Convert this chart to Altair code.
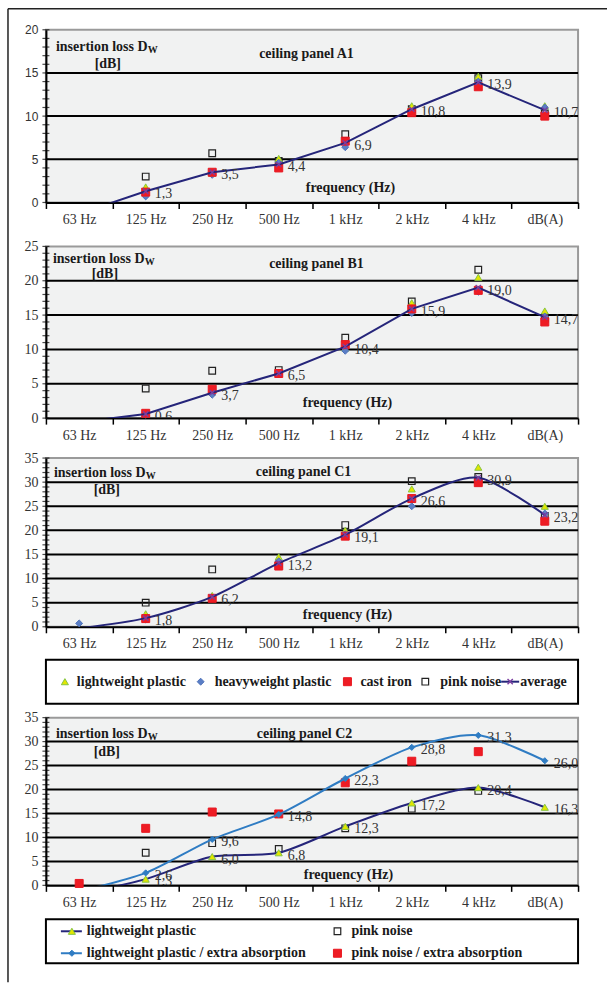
import altair as alt
import pandas as pd

# ---------------- data ----------------
CATS = ["63 Hz", "125 Hz", "250 Hz", "500 Hz", "1 kHz", "2 kHz", "4 kHz", "dB(A)"]

A1_LIGHT = [None, 1.8, 3.4, 5.1, 7.1, 11.2, 14.6, 11.2]
A1_HEAVY = [None, 0.7, 3.2, 4.6, 6.4, 10.5, 14.0, 11.0]
A1_CAST = [None, 1.2, 3.5, 4.0, 7.1, 10.4, 13.4, 10.0]
A1_PINK = [None, 3.0, 5.7, 4.8, 7.9, 10.8, 14.4, 10.3]
A1_AVG = [-1.3, 1.3, 3.5, 4.4, 6.9, 10.8, 13.9, 10.7]

B1_LIGHT = [None, 0.8, 3.8, 6.7, 10.2, 16.8, 20.5, 15.6]
B1_HEAVY = [None, 0.5, 3.4, 6.5, 9.8, 15.3, 18.4, 14.8]
B1_CAST = [None, 0.7, 4.2, 6.5, 10.7, 15.9, 18.6, 14.0]
B1_PINK = [None, 4.3, 6.9, 7.0, 11.7, 17.0, 21.6, 14.5]
B1_AVG = [-0.6, 0.6, 3.7, 6.5, 10.4, 15.9, 19.0, 14.7]

C1_LIGHT = [None, 2.7, 6.5, 14.5, 20.0, 28.6, 33.1, 25.0]
C1_HEAVY = [0.7, 1.5, 5.9, 13.6, 19.2, 25.0, 30.6, 23.5]
C1_CAST = [None, 1.7, 5.9, 12.6, 18.8, 26.6, 29.9, 21.9]
C1_PINK = [None, 5.0, 11.9, 12.9, 21.1, 30.2, 31.1, 23.0]
C1_AVG = [-0.3, 1.8, 6.2, 13.2, 19.1, 26.6, 30.9, 23.2]

C2_LIGHT = [-1.8, 1.3, 6.0, 6.8, 12.3, 17.2, 20.4, 16.3]
C2_LIGHT_EXTRA = [-1.2, 2.6, 9.6, 14.8, 22.3, 28.8, 31.3, 26.0]
C2_PINK = [None, 6.8, 8.8, 7.6, 11.9, 16.0, 19.7, None]
C2_PINK_EXTRA = [0.4, 11.9, 15.3, 14.9, 21.4, 25.9, 27.9, None]

PANEL_NAMES = ["ceiling panel A1", "ceiling panel B1", "ceiling panel C1", "ceiling panel C2"]
YMAX = [20, 25, 35, 35]
LEGEND1 = ["lightweight plastic", "heavyweight plastic", "cast iron", "pink noise", "average"]
LEGEND2 = ["lightweight plastic", "pink noise",
           "lightweight plastic / extra absorption", "pink noise / extra absorption"]

# ---------------- styles ----------------
SERIF = "Liberation Serif"
SANS = "Liberation Sans"
W = 533
ONE = pd.DataFrame({"k": [0]})
NAVY = "#25257a"
BLUE = "#2f7cc3"
PURPLE = "#7b3fa0"
TXT = "#1a1a1a"
LBL = "#333333"
XPATH = "M-1,-1L1,1M-1,1L1,-1"
FS = 14

STY = {
    "light": dict(shape="triangle-up", filled=True, fill="#e3e600", stroke="#86c440", strokeWidth=1, size=50),
    "heavy": dict(shape="diamond", filled=True, fill="#5a7ec6", stroke="#4d70b8", strokeWidth=1, size=48),
    "cast": dict(shape="square", filled=True, fill="#ee1c24", stroke="#e81820", strokeWidth=1, size=64),
    "pink": dict(shape="square", filled=False, stroke="#222222", strokeWidth=1.2, size=44),
    "lwx": dict(shape="diamond", filled=True, fill=BLUE, stroke=BLUE, strokeWidth=1, size=38),
    "avg": dict(shape=XPATH, filled=False, stroke=PURPLE, strokeWidth=1.4, size=28),
}

XAXIS = alt.Axis(title=None, labelAngle=0, domainColor="black", domainWidth=2,
                 tickColor="black", tickWidth=1.5, tickSize=6, tickBand="extent",
                 labelFont=SERIF, labelFontSize=14, labelColor=LBL, labelPadding=4, grid=False)


def xenc():
    return alt.X("cat:N", sort=CATS, axis=XAXIS,
                 scale=alt.Scale(domain=CATS, paddingInner=0, paddingOuter=0))


def make_y(ymax, font, fsize):
    ax = alt.Axis(title=None, values=list(range(0, ymax + 1, 5)), grid=False, ticks=False,
                  tickSize=0, domainColor="black", domainWidth=2, labelFont=font,
                  labelFontSize=fsize, labelColor=LBL, labelPadding=8)
    sc = alt.Scale(domain=[0, ymax], nice=False, zero=True)
    return lambda field: alt.Y(f"{field}:Q", scale=sc, axis=ax)


def frame(vals):
    return pd.DataFrame({"cat": CATS, "v": vals}).dropna()


def points(vals, key, yf):
    df = frame(vals)
    df = df[df["v"] >= 0]
    return alt.Chart(df).mark_point(opacity=1, **STY[key]).encode(x=xenc(), y=yf("v"))


def line(vals, color, interp, yf):
    kw = dict(color=color, strokeWidth=2, clip=True, interpolate=interp)
    if interp == "cardinal":
        kw["tension"] = 0.2
    return alt.Chart(frame(vals)).mark_line(**kw).encode(x=xenc(), y=yf("v"))


def labels(vals, yf):
    df = frame(vals)
    df = df[df["v"] > 0].copy()
    df["lbl"] = [f"{v:.1f}".replace(".", ",") for v in df["v"]]
    return alt.Chart(df).mark_text(align="left", baseline="middle", dx=9, dy=3, font=SERIF,
                                   fontSize=14, color=LBL, clip=True).encode(
        x=xenc(), y=yf("v"), text="lbl:N")


def note(text, x, y, size=FS, align="left", weight="bold", color=TXT):
    return alt.Chart(ONE).mark_text(text=text, align=align, baseline="middle", font=SERIF,
                                    fontSize=size, fontWeight=weight, color=color).encode(
        x=alt.value(x), y=alt.value(y))


def base_layers(ymax, yf):
    grid = alt.Chart(pd.DataFrame({"g": list(range(5, ymax, 5))})).mark_rule(
        color="black", strokeWidth=2).encode(y=yf("g"))
    ticks = alt.Chart(pd.DataFrame({"t": list(range(0, ymax + 1))})).mark_tick(
        orient="horizontal", color="black", thickness=1.2, size=7).encode(
        x=alt.value(0), y=yf("t"))
    return [grid, ticks]


def notes(name, lay):
    ix, iy = lay["ins"]
    return [
        note("insertion loss D", ix, iy),
        note("W", ix + 92, iy + 3, size=10),
        note("[dB]", lay["db"][0], lay["db"][1], align="center"),
        note(name, lay["title"][0], lay["title"][1], align="center"),
        note("frequency (Hz)", lay["freq"][0], lay["freq"][1], align="center"),
    ]


VIEW = alt.ViewBackground(fill="#f1f2f2", stroke="#9a9a9a", strokeWidth=2)

LAYOUT = [
    dict(h=173, ins=(10, 17), db=(62, 34), title=(261, 24), freq=(305, 159), interp="linear", yfont=SANS, ysize=12),
    dict(h=172, ins=(7, 13), db=(59, 28), title=(271, 18), freq=(302, 157), interp="linear", yfont=SERIF, ysize=14),
    dict(h=169, ins=(8, 15), db=(61, 32), title=(258, 14), freq=(302, 157), interp="cardinal", yfont=SERIF, ysize=14),
    dict(h=168, ins=(10, 16), db=(61, 34), title=(259, 16), freq=(303, 158), interp="cardinal", yfont=SERIF, ysize=14),
]


def panel4(i, light, heavy, cast, pink, avg, extra=None):
    lay = LAYOUT[i]
    ymax = YMAX[i]
    yf = make_y(ymax, lay["yfont"], lay["ysize"])
    layers = base_layers(ymax, yf)
    layers += [points(pink, "pink", yf), points(light, "light", yf), points(heavy, "heavy", yf),
               points(cast, "cast", yf), line(avg, NAVY, lay["interp"], yf),
               points(avg, "avg", yf), labels(avg, yf)]
    layers += notes(PANEL_NAMES[i], lay)
    if extra:
        layers += extra
    return alt.layer(*layers).properties(width=W, height=lay["h"], view=VIEW)


def panel_c2():
    lay = LAYOUT[3]
    ymax = YMAX[3]
    yf = make_y(ymax, lay["yfont"], lay["ysize"])
    layers = base_layers(ymax, yf)
    layers += [points(C2_PINK, "pink", yf), points(C2_PINK_EXTRA, "cast", yf),
               line(C2_LIGHT, NAVY, lay["interp"], yf), points(C2_LIGHT, "light", yf),
               line(C2_LIGHT_EXTRA, BLUE, lay["interp"], yf), points(C2_LIGHT_EXTRA, "lwx", yf),
               labels(C2_LIGHT, yf), labels(C2_LIGHT_EXTRA, yf)]
    layers += notes(PANEL_NAMES[3], lay)
    return alt.layer(*layers).properties(width=W, height=lay["h"], view=VIEW)


# outer frame of the figure (decoration), drawn relative to panel A1
outer = [
    alt.Chart(ONE).mark_rule(color="#222222", strokeWidth=1.5).encode(
        x=alt.value(-38), y=alt.value(-21), y2=alt.value(954)),
    alt.Chart(ONE).mark_rule(color="#222222", strokeWidth=1.5).encode(
        x=alt.value(-38), x2=alt.value(562), y=alt.value(-21)),
]

pA1 = panel4(0, A1_LIGHT, A1_HEAVY, A1_CAST, A1_PINK, A1_AVG, extra=outer)
pB1 = panel4(1, B1_LIGHT, B1_HEAVY, B1_CAST, B1_PINK, B1_AVG)
pC1 = panel4(2, C1_LIGHT, C1_HEAVY, C1_CAST, C1_PINK, C1_AVG)
pC2 = panel_c2()


def sym(key, x, y):
    return alt.Chart(ONE).mark_point(opacity=1, **STY[key]).encode(x=alt.value(x), y=alt.value(y))


def seg(color, x1, x2, y):
    return alt.Chart(ONE).mark_rule(color=color, strokeWidth=2).encode(
        x=alt.value(x1), x2=alt.value(x2), y=alt.value(y))


LEGVIEW = alt.ViewBackground(fill="white", stroke="black", strokeWidth=2)

leg1 = alt.layer(
    sym("light", 19, 22), note(LEGEND1[0], 31, 22),
    sym("heavy", 155, 22), note(LEGEND1[1], 169, 22),
    sym("cast", 302, 22), note(LEGEND1[2], 315, 22),
    sym("pink", 380, 22), note(LEGEND1[3], 395, 22),
    seg(NAVY, 456, 474, 22), sym("avg", 465, 22), note(LEGEND1[4], 475, 22),
).properties(width=W, height=44, view=LEGVIEW)

leg2 = alt.layer(
    seg(NAVY, 15, 36, 12), sym("light", 26, 12), note(LEGEND2[0], 41, 12),
    sym("pink", 292, 12), note(LEGEND2[1], 306, 12),
    seg(BLUE, 15, 36, 34), sym("lwx", 26, 34), note(LEGEND2[2], 41, 34),
    sym("cast", 292, 34), note(LEGEND2[3], 306, 34),
).properties(width=W, height=44, view=LEGVIEW)


def spacer(h):
    return alt.Chart(ONE).mark_point(opacity=0).encode(
        x=alt.value(0), y=alt.value(0)).properties(
        width=W, height=h, view=alt.ViewBackground(fill="transparent", stroke="transparent"))


chart = alt.vconcat(
    pA1, spacer(44), pB1, spacer(40), pC1, spacer(33), leg1, spacer(14), pC2, spacer(34), leg2,
    spacing=0, bounds="flush",
).properties(
    padding={"left": 6, "top": 6, "right": 0, "bottom": 0},
    background="white",
)

chart.save("out.html", embed_options={"renderer": "svg", "actions": False})
